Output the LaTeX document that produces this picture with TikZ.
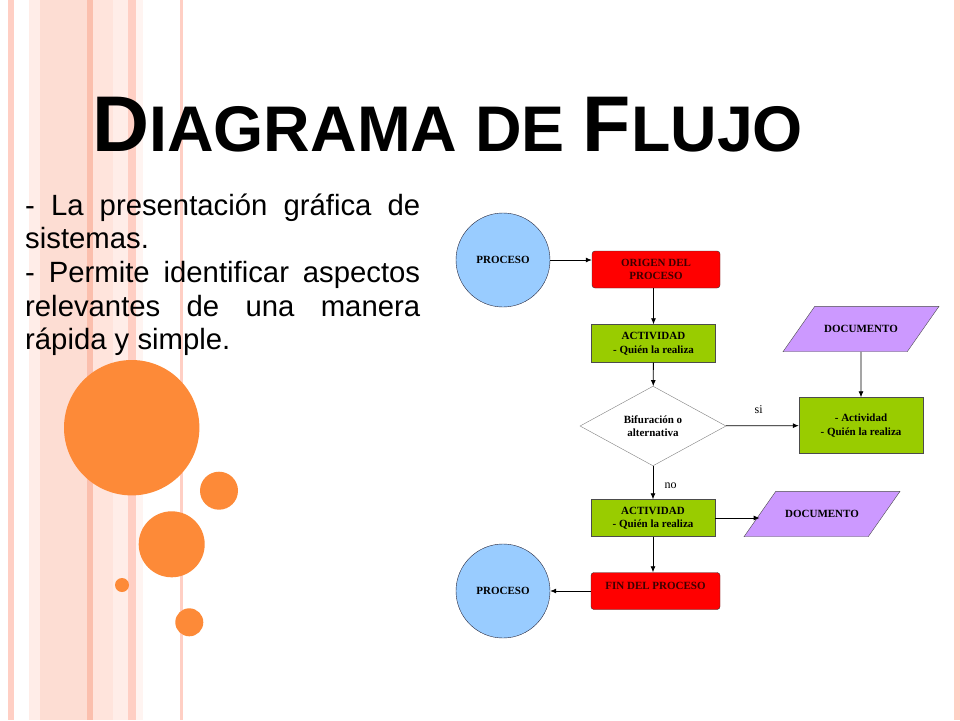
\documentclass[tikz,border=0pt]{standalone}
\usepackage{fontspec}
\setmainfont{Liberation Sans}
\newfontfamily\chartfont{Liberation Serif}
\usetikzlibrary{shapes.geometric, arrows.meta}

\definecolor{stripelight}{RGB}{255,237,232}
\definecolor{stripepale}{RGB}{253,221,211}
\definecolor{stripesalmon}{RGB}{251,191,173}
\definecolor{stripepink}{RGB}{255,207,196}
\definecolor{stripesoft}{RGB}{255,228,220}
\definecolor{dotorange}{RGB}{253,138,56}
\definecolor{procblue}{RGB}{153,204,255}
\definecolor{boxred}{RGB}{255,0,0}
\definecolor{boxgreen}{RGB}{153,204,0}
\definecolor{docpurple}{RGB}{204,153,255}
\definecolor{darkred}{RGB}{60,0,0}

\tikzset{
  chart/.style={font=\chartfont\bfseries\fontsize{11}{13.5}\selectfont, align=center, inner sep=0pt},
  proc/.style={chart, circle, draw={rgb,255:red,40;green,40;blue,60}, fill=procblue, minimum size=94pt},
  endbox/.style={chart, rectangle, rounded corners=3pt, draw=black!80, fill=boxred, text=darkred, minimum width=128pt, minimum height=37pt},
  actbox/.style={chart, rectangle, draw=black!70, fill=boxgreen, minimum width=124pt, minimum height=38pt},
  branch/.style={chart, diamond, draw=gray, fill=white, minimum width=146pt, minimum height=73pt},
  doc/.style={chart, trapezium, trapezium left angle=55, trapezium right angle=125, trapezium stretches body, draw=black!70, fill=docpurple, inner ysep=19pt, minimum width=156pt},
  bodyline/.style={anchor=base west, inner sep=0pt, font=\fontsize{29.3}{33.7}\selectfont},
  flow/.style={-{Latex[length=6pt,width=5pt]}, black, line width=0.8pt}
}

\begin{document}
\begin{tikzpicture}[x=1pt, y=-1pt]
\useasboundingbox (0,0) rectangle (960,720);
\fill[white] (0,0) rectangle (960,720);
% Draw stripes on the left and right edges
\fill[stripepink] (8,0) rectangle (14,720);
\fill[stripelight] (29,0) rectangle (40,720);
\fill[stripepale] (40,0) rectangle (87,720);
\fill[stripesalmon] (87,0) rectangle (93,720);
\fill[stripesoft] (93,0) rectangle (113,720);
\draw[stripesalmon!80!gray, line width=0.5pt] (113,0) -- (113,720);
\fill[stripelight] (113,0) rectangle (128,720);
\fill[stripepink] (128,0) rectangle (136,720);
\fill[stripelight!60] (136,0) rectangle (143,720);
\fill[stripepink] (180,0) rectangle (183,720);
\fill[stripepink] (954,0) rectangle (960,720);
% Draw orange dots
\fill[dotorange] (131.7,427.7) circle [radius=67.7];
\fill[dotorange] (219,490.7) circle [radius=19];
\fill[dotorange] (171.7,544.3) circle [radius=33];
\fill[dotorange] (122,585) circle [radius=7];
\fill[dotorange] (189.3,622.3) circle [radius=14];
% Title
\node[anchor=base west, inner sep=0pt, font=\bfseries] (title) at (92,151)
  {\fontsize{79}{79}\selectfont D\fontsize{64.5}{64.5}\selectfont IAGRAMA DE \fontsize{79}{79}\selectfont F\fontsize{64.5}{64.5}\selectfont LUJO};
% Body text
\node[bodyline] (line1) at (25,215) {\makebox[395pt][s]{- La presentación gráfica de}};
\node[bodyline] (line2) at (25,248.7) {sistemas.};
\node[bodyline] (line3) at (25,282.4) {\makebox[395pt][s]{- Permite identificar aspectos}};
\node[bodyline] (line4) at (25,316.1) {\makebox[395pt][s]{relevantes de una manera}};
\node[bodyline] (line5) at (25,349.8) {rápida y simple.};
% Flowchart nodes
\node[proc] (proc1) at (503,260) {PROCESO};
\node[endbox] (origin) at (656,269.5) {ORIGEN DEL\\PROCESO};
\node[actbox] (act1) at (653.5,343.5) {ACTIVIDAD\\- Quién la realiza};
\node[branch] (bif) at (653,426) {Bifuración o\\alternativa};
\node[doc] (doc1) at (861,329) {DOCUMENTO};
\node[actbox, minimum height=56pt] (act3) at (861,425.5) {- Actividad\\- Quién la realiza};
\node[actbox, minimum height=37pt] (act2) at (653,518) {ACTIVIDAD\\- Quién la realiza};
\node[doc] (doc2) at (822,514) {DOCUMENTO};
\node[endbox, minimum width=129pt, text height=6pt, text depth=10pt] (fin) at (655.5,591) {FIN DEL PROCESO};
\node[proc] (proc2) at (503,591) {PROCESO};
% Flowchart connectors
\draw[flow] (proc1.east) -- (proc1.east -| origin.west);
\draw[flow] (act1.north |- origin.south) -- (act1.north);
\draw[flow] (act1) -- (bif);
\draw[flow] (bif) -- node[above=8pt, pos=0.45, font=\chartfont\fontsize{12}{12}\selectfont] {si} (act3);
\draw[flow] (doc1) -- (act3);
\draw[flow] (bif) -- node[right=8pt, pos=0.6, font=\chartfont\fontsize{12}{12}\selectfont] {no} (act2);
\draw[flow] (act2.east) -- (act2.east -| doc2.west);
\draw[flow] (act2) -- (fin.north -| act2);
\draw[flow] (fin) -- (proc2);
\end{tikzpicture}
\end{document}
